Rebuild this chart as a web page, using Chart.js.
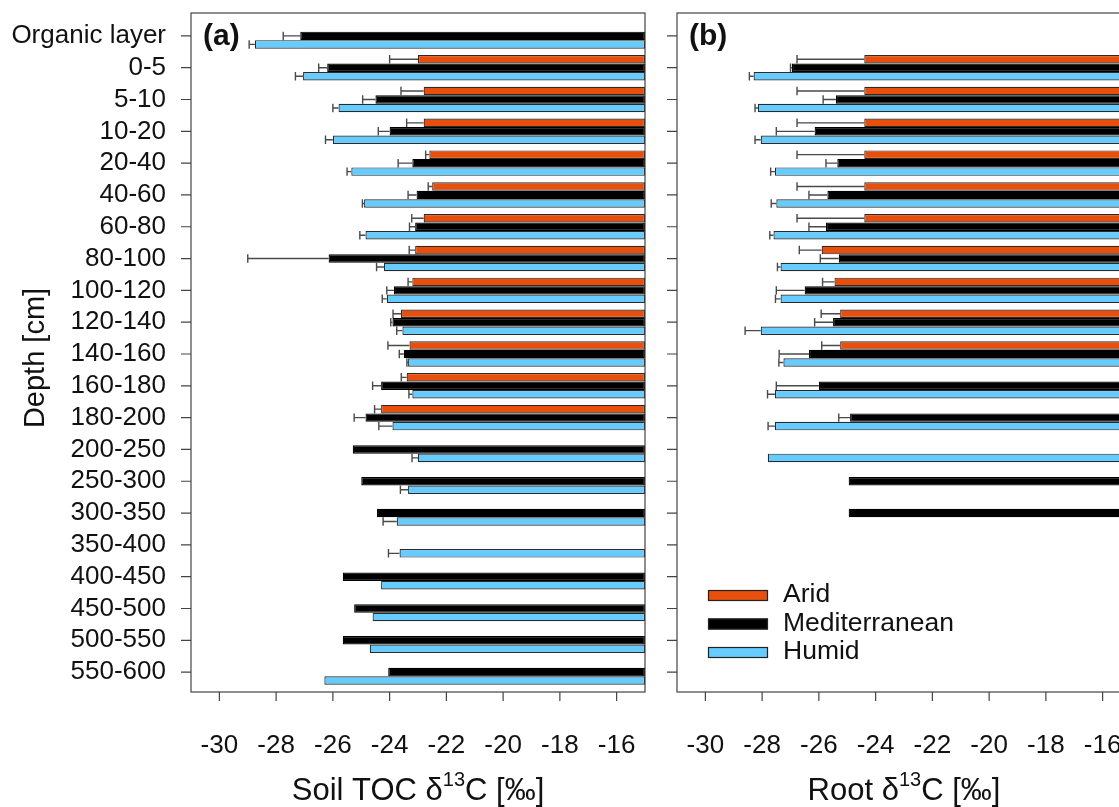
<!DOCTYPE html>
<html>
<head>
<meta charset="utf-8">
<script src="https://cdn.jsdelivr.net/npm/chart.js@4.4.1/dist/chart.umd.min.js"></script>
<style>
  body { margin: 0; background: #fff; overflow: hidden; width: 1119px; height: 807px; position: relative; }
  #wrapA { position: absolute; left: 0; top: 0; width: 660px; height: 807px; }
  #wrapB { position: absolute; left: 655px; top: 0; width: 490px; height: 807px; }
</style>
</head>
<body>
<div id="wrapA"><canvas id="chartA"></canvas></div>
<div id="wrapB"><canvas id="chartB"></canvas></div>
<script>
const depths = ["Organic layer", "0-5", "5-10", "10-20", "20-40", "40-60", "60-80", "80-100",
  "100-120", "120-140", "140-160", "160-180", "180-200", "200-250", "250-300", "300-350",
  "350-400", "400-450", "450-500", "500-550", "550-600"];
const xTicks = [-30, -28, -26, -24, -22, -20, -18, -16];
const xBase = -15;

// soil TOC d13C
const soilArid = [null, -23.0, -22.8, -22.8, -22.6, -22.5, -22.8, -23.1, -23.2, -23.6, -23.3,
  -23.4, -24.3, null, null, null, null, null, null, null, null];
const soilAridErr = [null, 1.0, 0.8, 0.6, 0.13, 0.14, 0.42, 0.21, 0.15, 0.28, 0.76,
  0.19, 0.23, null, null, null, null, null, null, null, null];
const soilMed = [-27.15, -26.2, -24.5, -24.0, -23.2, -23.05, -23.1, -26.15, -23.85, -23.9, -23.5,
  -24.3, -24.85, -25.3, -25.0, -24.45, null, -25.65, -25.25, -25.65, -24.05];
const soilMedErr = [0.6, 0.3, 0.45, 0.4, 0.5, 0.3, 0.2, 2.85, 0.25, 0.06, 0.16,
  0.3, 0.4, null, null, null, null, null, null, null, null];
const soilHumid = [-28.75, -27.05, -25.8, -26.0, -25.35, -24.9, -24.85, -24.2, -24.1, -23.55, -23.35,
  -23.2, -23.9, -23.0, -23.35, -23.75, -23.65, -24.3, -24.6, -24.7, -26.3];
const soilHumidErr = [0.2, 0.27, 0.2, 0.26, 0.15, 0.06, 0.2, 0.26, 0.16, 0.2, 0.04,
  0.12, 0.48, 0.21, 0.27, 0.48, 0.39, null, null, null, null];

// root d13C
const rootArid = [null, -24.4, -24.4, -24.4, -24.4, -24.4, -24.4, -25.9, -25.45, -25.25, -25.25,
  null, null, null, null, null, null, null, null, null, null];
const rootAridErr = [null, 2.37, 2.37, 2.37, 2.37, 2.37, 2.37, 0.79, 0.42, 0.67, 0.65,
  null, null, null, null, null, null, null, null, null, null];
const rootMed = [null, -26.95, -25.4, -26.15, -25.35, -25.7, -25.75, -25.3, -26.5, -25.5, -26.35,
  -26.0, -24.9, null, -24.95, -24.95, null, null, null, null, null];
const rootMedErr = [null, 0.05, 0.45, 1.35, 0.4, 0.65, 0.6, 0.65, 1.0, 0.65, 1.05,
  1.5, 0.4, null, null, null, null, null, null, null, null];
const rootHumid = [null, -28.3, -28.15, -28.05, -27.55, -27.5, -27.6, -27.35, -27.35, -28.05, -27.25,
  -27.55, -27.55, -27.8, null, null, null, null, null, null, null];
const rootHumidErr = [null, 0.15, 0.1, 0.2, 0.15, 0.18, 0.13, 0.11, 0.18, 0.55, 0.16,
  0.26, 0.24, null, null, null, null, null, null, null, null];

const seriesNames = ["Arid", "Mediterranean", "Humid"];
const seriesColors = ["#E84E0C", "#000000", "#66CCFF"];

const FONT = '"Liberation Sans", Arial, sans-serif';
const FRAME_TOP = 13, FRAME_BOTTOM = 692;

function drawText(ctx, text, x, y, size, align, bold) {
  ctx.font = (bold ? "bold " : "") + size + "px " + FONT;
  ctx.textBaseline = "middle";
  ctx.textAlign = align;
  ctx.fillText(text, x, y);
  return ctx.measureText(text).width;
}

function deltaTitle(ctx, pre, cx, y) {
  const parts = [[pre + "\u03B4", 31, 0], ["13", 20, -11], ["C [\u2030]", 31, 0]];
  let total = 0;
  parts.forEach(p => { ctx.font = p[1] + "px " + FONT; total += ctx.measureText(p[0]).width; });
  let x = cx - total / 2;
  parts.forEach(p => { x += drawText(ctx, p[0], x, y + p[2], p[1], "left"); });
}

function makeDatasets(vals, errs) {
  return vals.map((v, k) => ({
    label: seriesNames[k],
    data: v.map(d => d == null ? null : [d, xBase]),
    values: v,
    errors: errs[k],
    backgroundColor: seriesColors[k],
    borderColor: k === 1 ? "#000" : "#2a2a2a",
    borderWidth: 1.2,
    borderSkipped: false,
    categoryPercentage: 0.8,
    barPercentage: 1.0,
  }));
}

const panelPlugin = {
  id: "panel",
  afterDatasetsDraw(chart) {
    const ctx = chart.ctx;
    const xs = chart.scales.x;
    ctx.save();
    ctx.strokeStyle = "#4a4a4a";
    ctx.lineWidth = 1.4;
    chart.data.datasets.forEach((ds, di) => {
      const meta = chart.getDatasetMeta(di);
      ds.values.forEach((v, i) => {
        const e = ds.errors[i];
        if (v == null || e == null) return;
        const bar = meta.data[i];
        const x1 = xs.getPixelForValue(v);
        const x2 = xs.getPixelForValue(v - e);
        const h = bar.height / 2;
        ctx.beginPath();
        ctx.moveTo(x1, bar.y);
        ctx.lineTo(x2, bar.y);
        ctx.moveTo(x2, bar.y - h);
        ctx.lineTo(x2, bar.y + h);
        ctx.stroke();
      });
    });
    ctx.restore();
  },
  afterDraw(chart, args, opts) {
    const ctx = chart.ctx;
    const a = chart.chartArea;
    const xs = chart.scales.x, ys = chart.scales.y;
    ctx.save();
    ctx.strokeStyle = "#444";
    ctx.lineWidth = 1.2;
    ctx.strokeRect(a.left, FRAME_TOP, a.right - a.left, FRAME_BOTTOM - FRAME_TOP);
    ctx.beginPath();
    depths.forEach((d, i) => {
      const y = ys.getPixelForTick(i);
      ctx.moveTo(a.left - 10, y);
      ctx.lineTo(a.left, y);
    });
    xTicks.forEach(v => {
      const x = xs.getPixelForValue(v);
      ctx.moveTo(x, FRAME_BOTTOM);
      ctx.lineTo(x, FRAME_BOTTOM + 9);
    });
    ctx.stroke();
    ctx.fillStyle = "#111";
    if (opts.yLabels) {
      depths.forEach((d, i) => drawText(ctx, d, a.left - 25, ys.getPixelForTick(i), 26, "right"));
      ctx.save();
      ctx.translate(36, 358);
      ctx.rotate(-Math.PI / 2);
      drawText(ctx, "Depth [cm]", 0, 0, 29, "center");
      ctx.restore();
    }
    xTicks.forEach(v => drawText(ctx, String(v), xs.getPixelForValue(v), 746, 26, "center"));
    deltaTitle(ctx, opts.titlePre, (a.left + a.right) / 2, 791);
    drawText(ctx, opts.letter, a.left + 12, 37, 30, "left", true);
    if (opts.legend) {
      chart.data.datasets.forEach((ds, k) => {
        const y = 595 + k * 28.5;
        const bx = a.left + 31;
        ctx.fillStyle = ds.backgroundColor;
        ctx.fillRect(bx, y - 5, 60, 11);
        ctx.strokeStyle = "#222";
        ctx.lineWidth = 1.2;
        ctx.strokeRect(bx + 0.5, y - 4.5, 59, 10);
        ctx.fillStyle = "#111";
        drawText(ctx, ds.label, bx + 75, y, 26.5, "left");
      });
    }
    ctx.restore();
  }
};

function buildChart(id, datasets, yWidth, padRight, opts) {
  return new Chart(document.getElementById(id), {
    type: "bar",
    data: { labels: depths, datasets: datasets },
    plugins: [panelPlugin],
    options: {
      indexAxis: "y",
      responsive: true,
      maintainAspectRatio: false,
      animation: false,
      layout: { padding: { top: 20, right: padRight, bottom: 0, left: 0 } },
      scales: {
        x: {
          type: "linear",
          min: -31,
          max: -15,
          ticks: { display: false },
          grid: { display: false },
          border: { display: false },
          afterFit: (s) => { s.height = 119; },
        },
        y: {
          ticks: { display: false },
          grid: { display: false },
          border: { display: false },
          afterFit: (s) => { s.width = yWidth; },
        },
      },
      plugins: {
        legend: { display: false },
        tooltip: { enabled: false },
        panel: opts,
      },
    },
  });
}

buildChart("chartA",
  makeDatasets([soilArid, soilMed, soilHumid], [soilAridErr, soilMedErr, soilHumidErr]),
  191, 15, { yLabels: true, letter: "(a)", titlePre: "Soil TOC ", legend: false });

buildChart("chartB",
  makeDatasets([rootArid, rootMed, rootHumid], [rootAridErr, rootMedErr, rootHumidErr]),
  22, 14, { yLabels: false, letter: "(b)", titlePre: "Root ", legend: true });
</script>
</body>
</html>
